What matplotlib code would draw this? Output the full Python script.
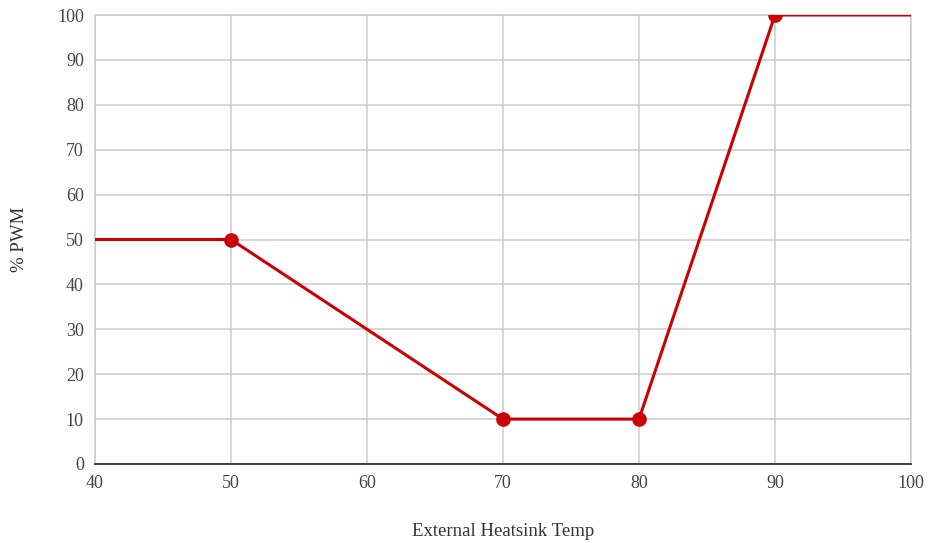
import matplotlib
matplotlib.use('Agg')

import matplotlib.pyplot as plt

# Fan curve data
temps = [40, 50, 70, 80, 90, 100]
pwm = [50, 50, 10, 10, 100, 100]
marker_temps = [50, 70, 80, 90]
marker_pwm = [50, 10, 10, 100]

plt.rcParams['font.family'] = ['Liberation Serif', 'DejaVu Serif']

fig = plt.figure(figsize=(9.29, 5.43), dpi=100)
ax = fig.add_axes([95 / 929, 79 / 543, 816 / 929, 449 / 543])

red = '#cc0000'
ax.plot(temps, pwm, color=red, linewidth=2.2, zorder=3)
ax.plot(marker_temps, marker_pwm, 'o', color=red, markersize=9.5, zorder=4)

ax.set_xlim(40, 100)
ax.set_ylim(0, 100)
ax.set_xticks(range(40, 101, 10))
ax.set_yticks(range(0, 101, 10))

ax.grid(True, color='#cccccc', linewidth=1.1)
ax.set_axisbelow(True)
for side in ['top', 'right', 'left']:
    ax.spines[side].set_color('#cccccc')
    ax.spines[side].set_linewidth(1.1)
ax.spines['bottom'].set_color('#333333')
ax.spines['bottom'].set_linewidth(1.3)

ax.tick_params(length=0, labelsize=13, labelcolor='#444444', pad=8)

ax.set_xlabel('External Heatsink Temp', fontsize=13.5, color='#333333')
ax.set_ylabel('% PWM', fontsize=13.5, color='#333333')
# place axis titles like the reference (in pixel-based axes fractions)
ax.xaxis.set_label_coords(0.5, -(532 - 464) / 449, transform=ax.transAxes)
ax.xaxis.label.set_va('center')
ax.yaxis.set_label_coords(-(95 - 20) / 816, 0.5, transform=ax.transAxes)
ax.yaxis.label.set_va('center')

plt.savefig('out.png', dpi=100)
